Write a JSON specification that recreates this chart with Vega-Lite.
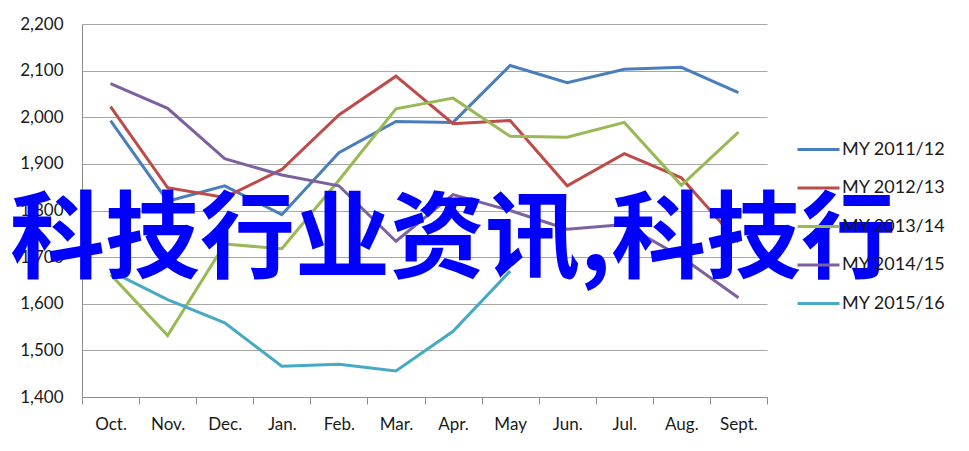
{
  "$schema": "https://vega.github.io/schema/vega-lite/v6.json",
  "width": 685,
  "height": 373,
  "autosize": "none",
  "padding": {"left": 82, "top": 24, "right": 202, "bottom": 54},
  "background": "white",
  "datasets": {
    "sales": [
      {"month": "Oct.", "series": "MY 2011/12", "value": 1993},
      {"month": "Nov.", "series": "MY 2011/12", "value": 1820},
      {"month": "Dec.", "series": "MY 2011/12", "value": 1853},
      {"month": "Jan.", "series": "MY 2011/12", "value": 1791},
      {"month": "Feb.", "series": "MY 2011/12", "value": 1924},
      {"month": "Mar.", "series": "MY 2011/12", "value": 1991},
      {"month": "Apr.", "series": "MY 2011/12", "value": 1989},
      {"month": "May", "series": "MY 2011/12", "value": 2111},
      {"month": "Jun.", "series": "MY 2011/12", "value": 2074},
      {"month": "Jul.", "series": "MY 2011/12", "value": 2103},
      {"month": "Aug.", "series": "MY 2011/12", "value": 2107},
      {"month": "Sept.", "series": "MY 2011/12", "value": 2053},
      {"month": "Oct.", "series": "MY 2012/13", "value": 2023},
      {"month": "Nov.", "series": "MY 2012/13", "value": 1849},
      {"month": "Dec.", "series": "MY 2012/13", "value": 1828},
      {"month": "Jan.", "series": "MY 2012/13", "value": 1888},
      {"month": "Feb.", "series": "MY 2012/13", "value": 2005},
      {"month": "Mar.", "series": "MY 2012/13", "value": 2088},
      {"month": "Apr.", "series": "MY 2012/13", "value": 1986},
      {"month": "May", "series": "MY 2012/13", "value": 1993},
      {"month": "Jun.", "series": "MY 2012/13", "value": 1853},
      {"month": "Jul.", "series": "MY 2012/13", "value": 1922},
      {"month": "Aug.", "series": "MY 2012/13", "value": 1870},
      {"month": "Sept.", "series": "MY 2012/13", "value": 1732},
      {"month": "Oct.", "series": "MY 2013/14", "value": 1663},
      {"month": "Nov.", "series": "MY 2013/14", "value": 1532},
      {"month": "Dec.", "series": "MY 2013/14", "value": 1728},
      {"month": "Jan.", "series": "MY 2013/14", "value": 1718},
      {"month": "Feb.", "series": "MY 2013/14", "value": 1865},
      {"month": "Mar.", "series": "MY 2013/14", "value": 2018},
      {"month": "Apr.", "series": "MY 2013/14", "value": 2041},
      {"month": "May", "series": "MY 2013/14", "value": 1959},
      {"month": "Jun.", "series": "MY 2013/14", "value": 1957},
      {"month": "Jul.", "series": "MY 2013/14", "value": 1989},
      {"month": "Aug.", "series": "MY 2013/14", "value": 1854},
      {"month": "Sept.", "series": "MY 2013/14", "value": 1968},
      {"month": "Oct.", "series": "MY 2014/15", "value": 2072},
      {"month": "Nov.", "series": "MY 2014/15", "value": 2019},
      {"month": "Dec.", "series": "MY 2014/15", "value": 1911},
      {"month": "Jan.", "series": "MY 2014/15", "value": 1876},
      {"month": "Feb.", "series": "MY 2014/15", "value": 1853},
      {"month": "Mar.", "series": "MY 2014/15", "value": 1734},
      {"month": "Apr.", "series": "MY 2014/15", "value": 1834},
      {"month": "May", "series": "MY 2014/15", "value": 1800},
      {"month": "Jun.", "series": "MY 2014/15", "value": 1760},
      {"month": "Jul.", "series": "MY 2014/15", "value": 1770},
      {"month": "Aug.", "series": "MY 2014/15", "value": 1700},
      {"month": "Sept.", "series": "MY 2014/15", "value": 1613},
      {"month": "Oct.", "series": "MY 2015/16", "value": 1670},
      {"month": "Nov.", "series": "MY 2015/16", "value": 1609},
      {"month": "Dec.", "series": "MY 2015/16", "value": 1559},
      {"month": "Jan.", "series": "MY 2015/16", "value": 1466},
      {"month": "Feb.", "series": "MY 2015/16", "value": 1470},
      {"month": "Mar.", "series": "MY 2015/16", "value": 1456},
      {"month": "Apr.", "series": "MY 2015/16", "value": 1541},
      {"month": "May", "series": "MY 2015/16", "value": 1670}
    ],
    "overlay": [
      {"month": "Apr.", "value": 1732, "label": "科技行业资讯,科技行"}
    ]
  },
  "layer": [
    {
      "data": {"name": "sales"},
      "mark": {"type": "line", "strokeWidth": 3},
      "encoding": {
        "x": {
          "field": "month",
          "type": "ordinal",
          "sort": ["Oct.", "Nov.", "Dec.", "Jan.", "Feb.", "Mar.", "Apr.", "May", "Jun.", "Jul.", "Aug.", "Sept."],
          "bandPosition": 0.5,
          "scale": {"type": "band", "paddingInner": 0, "paddingOuter": 0},
          "axis": {
            "title": null,
            "labelAngle": 0,
            "tickBand": "extent",
            "tickSize": 7,
            "tickColor": "#8c8c8c",
            "domainColor": "#8c8c8c",
            "labelPadding": 12,
            "grid": false
          }
        },
        "y": {
          "field": "value",
          "type": "quantitative",
          "scale": {"domain": [1400, 2200], "nice": false, "zero": false},
          "axis": {
            "title": null,
            "tickCount": 8,
            "format": ",d",
            "tickSize": 0,
            "labelPadding": 19,
            "domainColor": "#8c8c8c",
            "gridColor": "#a6a6a6"
          }
        },
        "color": {
          "field": "series",
          "type": "nominal",
          "scale": {
            "domain": ["MY 2011/12", "MY 2012/13", "MY 2013/14", "MY 2014/15", "MY 2015/16"],
            "range": ["#4a7ebb", "#be4b48", "#98b954", "#7d60a0", "#46aac5"]
          },
          "legend": {
            "title": null,
            "orient": "none",
            "legendX": 714,
            "legendY": 103,
            "symbolType": "stroke",
            "symbolSize": 1764,
            "symbolStrokeWidth": 3,
            "labelOffset": 1,
            "rowPadding": 6.5,
            "labelFontSize": 18,
            "labelColor": "#1a1a1a"
          }
        }
      }
    },
    {
      "data": {"name": "overlay"},
      "mark": {
        "type": "text",
        "font": "Noto Sans CJK SC",
        "fontWeight": "bold",
        "fontSize": 95,
        "color": "#0000ff",
        "align": "center",
        "baseline": "middle"
      },
      "encoding": {
        "x": {
          "field": "month",
          "type": "ordinal",
          "sort": ["Oct.", "Nov.", "Dec.", "Jan.", "Feb.", "Mar.", "Apr.", "May", "Jun.", "Jul.", "Aug.", "Sept."],
          "bandPosition": 0.5
        },
        "y": {"field": "value", "type": "quantitative"},
        "text": {"field": "label"}
      }
    }
  ],
  "config": {
    "view": {"stroke": null},
    "font": "Lato",
    "axis": {
      "labelFontSize": 17,
      "labelColor": "#1a1a1a",
      "labelFont": "Lato"
    },
    "legend": {"labelFont": "Lato"}
  }
}
